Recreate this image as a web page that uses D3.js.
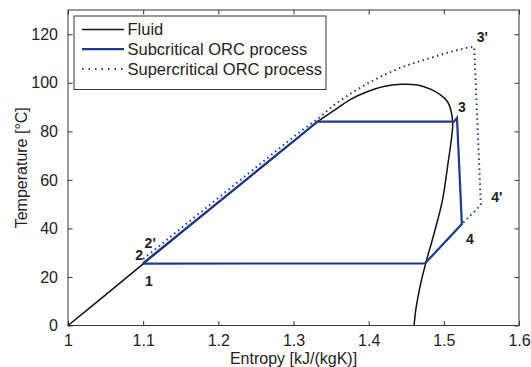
<!DOCTYPE html>
<html>
<head>
<meta charset="utf-8">
<script src="https://cdn.jsdelivr.net/npm/d3@7"></script>
<style>
  html, body { margin: 0; padding: 0; background: #fff; }
  svg text { font-family: "Liberation Sans", Arial, Helvetica, sans-serif; fill: #222; }
</style>
</head>
<body>
<svg id="chart" width="531" height="367"></svg>
<script>
// Saturation dome of the working fluid (liquid line, then vapour line)
const fluidS = [1.0, 1.05, 1.1, 1.15, 1.2, 1.25, 1.3, 1.332, 1.354, 1.376, 1.398, 1.420, 1.443, 1.465, 1.483, 1.496, 1.505, 1.5093, 1.5118, 1.5110, 1.5049, 1.4982, 1.4871, 1.4760, 1.4693, 1.4649, 1.4627, 1.4604];
const fluidT = [0, 12.6, 25.4, 38.0, 50.6, 63.2, 75.8, 84.0, 88.6, 93.2, 96.3, 98.5, 99.4, 99.1, 97.3, 94.9, 92.2, 88.8, 83.5, 79.2, 65.4, 51.7, 38.0, 25.7, 17.4, 10.6, 6.5, 0];

// Subcritical ORC: 1 -> 2 -> evaporation -> 3 -> 4 -> condensation -> 1
const subS = [1.0996, 1.1, 1.332, 1.5135, 1.5175, 1.524, 1.4750, 1.0996];
const subT = [25.5, 25.7, 84.0, 84.0, 85.5, 41.8, 25.6, 25.5];

// Supercritical ORC: 2' -> heating above the dome -> 3' -> 4' -> 4
const supS = [1.1, 1.2, 1.31, 1.3316, 1.3538, 1.376, 1.3982, 1.4204, 1.4427, 1.4649, 1.4871, 1.5093, 1.5316, 1.5404, 1.5493, 1.524];
const supT = [27.4, 52.6, 80.2, 85.0, 90.8, 95.6, 99.7, 103.2, 106.3, 108.6, 110.7, 112.8, 114.5, 114.8, 49.7, 41.8];

// State point labels, anchored at their state points
const pointNames = ["1", "2", "2'", "3", "3'", "4", "4'"];
const pointS = [1.0996, 1.1, 1.1, 1.5175, 1.5404, 1.524, 1.5493];
const pointT = [25.5, 25.7, 27.4, 85.5, 114.8, 41.8, 49.7];
const pointDx = [6, -4, 7, 5, 8, 8, 16];
const pointDy = [17, -8, -16, -11, -10, 15, -8];

const xTicks = [1, 1.1, 1.2, 1.3, 1.4, 1.5, 1.6];
const yTicks = [0, 20, 40, 60, 80, 100, 120];

const seriesNames = ["Fluid", "Subcritical ORC process", "Supercritical ORC process"];

const blue = "#1c3a8a";

const svg = d3.select("#chart");
const plotLeft = 68, plotRight = 519, plotTop = 10, plotBottom = 325.5;

const x = d3.scaleLinear().domain([1, 1.6]).range([plotLeft, plotRight]);
const y = d3.scaleLinear().domain([0, 130]).range([plotBottom, plotTop]);

// Axes with inward ticks on all four sides
const tickLen = 4.5;
const axisG = svg.append("g");
axisG.append("g").attr("transform", `translate(0,${plotBottom})`)
  .call(d3.axisBottom(x).tickValues(xTicks).tickSizeInner(-tickLen).tickSizeOuter(0).tickPadding(9)
    .tickFormat(d => String(+d.toFixed(1))));
axisG.append("g").attr("transform", `translate(0,${plotTop})`)
  .call(d3.axisTop(x).tickValues(xTicks).tickSizeInner(-tickLen).tickSizeOuter(0).tickFormat(""));
axisG.append("g").attr("transform", `translate(${plotLeft},0)`)
  .call(d3.axisLeft(y).tickValues(yTicks).tickSizeInner(-tickLen).tickSizeOuter(0).tickPadding(10));
axisG.append("g").attr("transform", `translate(${plotRight},0)`)
  .call(d3.axisRight(y).tickValues(yTicks).tickSizeInner(-tickLen).tickSizeOuter(0).tickFormat(""));
axisG.selectAll(".domain").remove();
axisG.selectAll(".tick line").attr("stroke", "#333").attr("stroke-width", 1);
axisG.selectAll(".tick text").attr("font-size", 16).attr("fill", "#222")
  .attr("font-family", "Liberation Sans, Arial, sans-serif");
axisG.append("rect").attr("x", plotLeft).attr("y", plotTop)
  .attr("width", plotRight - plotLeft).attr("height", plotBottom - plotTop)
  .attr("fill", "none").attr("stroke", "#333").attr("stroke-width", 1);

// Axis titles
svg.append("text").attr("x", (plotLeft + plotRight) / 2).attr("y", 364)
  .attr("text-anchor", "middle").attr("font-size", 16)
  .text("Entropy [kJ/(kgK)]");
svg.append("text").attr("transform", `translate(27,${(plotTop + plotBottom) / 2}) rotate(-90)`)
  .attr("text-anchor", "middle").attr("font-size", 16)
  .text("Temperature [°C]");

const plot = svg.append("g");

// Fluid saturation curve
plot.append("path")
  .attr("d", d3.line().x(d => x(d[0])).y(d => y(d[1]))
    .curve(d3.curveCatmullRom.alpha(0.5))(d3.zip(fluidS, fluidT)))
  .attr("fill", "none").attr("stroke", "#111").attr("stroke-width", 1.5);

// Supercritical cycle (dotted)
plot.append("path")
  .attr("d", d3.line().x(d => x(d[0])).y(d => y(d[1]))(d3.zip(supS, supT)))
  .attr("fill", "none").attr("stroke", blue).attr("stroke-width", 2)
  .attr("stroke-dasharray", "1.5,3.5");

// Subcritical cycle
plot.append("path")
  .attr("d", d3.line().x(d => x(d[0])).y(d => y(d[1]))(d3.zip(subS, subT)))
  .attr("fill", "none").attr("stroke", blue).attr("stroke-width", 2.2)
  .attr("stroke-linejoin", "miter");

// State point labels
plot.selectAll("text.pt")
  .data(pointNames)
  .join("text")
  .attr("class", "pt")
  .attr("x", (d, i) => x(pointS[i]) + pointDx[i])
  .attr("y", (d, i) => y(pointT[i]) + pointDy[i])
  .attr("dy", "0.35em")
  .attr("text-anchor", "middle")
  .attr("font-size", 14).attr("font-weight", "bold").attr("fill", "#111")
  .text(d => d);

// Legend
const legend = svg.append("g");
legend.append("rect").attr("x", 74).attr("y", 16).attr("width", 252).attr("height", 73.5)
  .attr("fill", "#fff").attr("stroke", "#333").attr("stroke-width", 1);
const legendStyles = [
  { stroke: "#111", width: 1.5, dash: null },
  { stroke: blue, width: 2.2, dash: null },
  { stroke: blue, width: 2, dash: "1.5,5" }
];
seriesNames.forEach((name, i) => {
  const cy = 29.5 + i * 19.7;
  legend.append("line").attr("x1", 82).attr("x2", 124).attr("y1", cy).attr("y2", cy)
    .attr("stroke", legendStyles[i].stroke).attr("stroke-width", legendStyles[i].width)
    .attr("stroke-dasharray", legendStyles[i].dash);
  legend.append("text").attr("x", 127.5).attr("y", cy).attr("dy", "0.36em")
    .attr("font-size", 16.5).text(name);
});
</script>
</body>
</html>
